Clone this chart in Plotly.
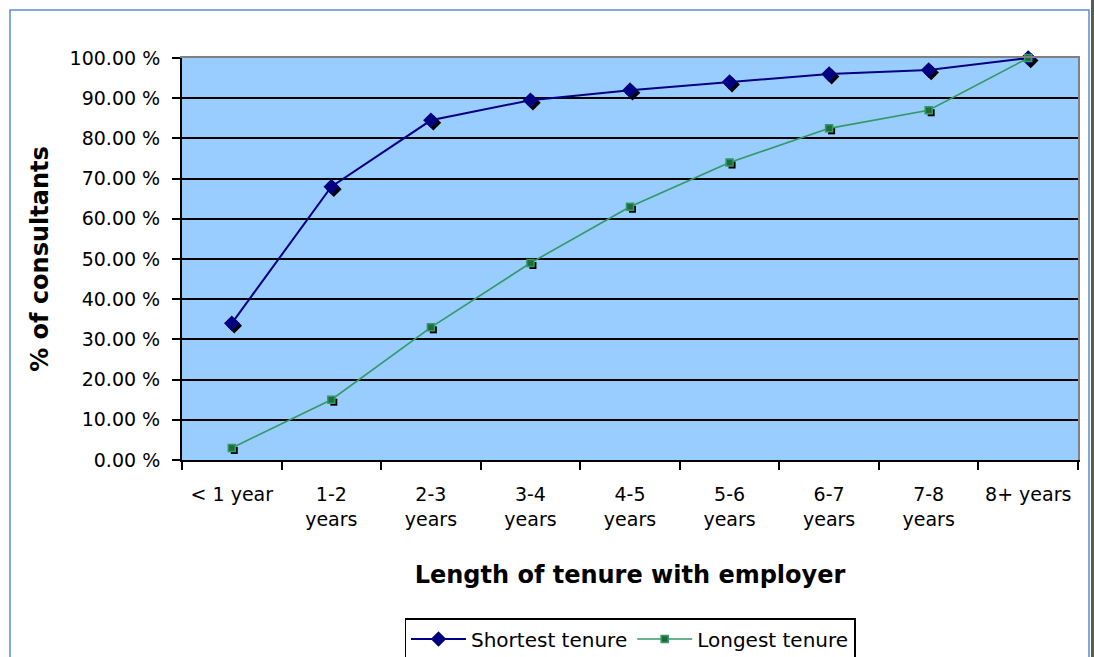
import plotly.graph_objects as go

# Tenure categories and cumulative share of consultants (%)
categories = ["&lt; 1 year", "1-2<br>years", "2-3<br>years", "3-4<br>years", "4-5<br>years",
              "5-6<br>years", "6-7<br>years", "7-8<br>years", "8+ years"]
shortest_tenure = [34, 68, 84.5, 89.5, 92, 94, 96, 97, 100]
longest_tenure = [3, 15, 33, 49, 63, 74, 82.5, 87, 100]
y_tick_values = [0, 10, 20, 30, 40, 50, 60, 70, 80, 90, 100]
y_tick_labels = ["0.00 %", "10.00 %", "20.00 %", "30.00 %", "40.00 %", "50.00 %",
                 "60.00 %", "70.00 %", "80.00 %", "90.00 %", "100.00 %"]

W, H = 1094, 657
ML, MR, MT, MB = 182, 16, 58, 197
PW, PH = W - ML - MR, H - MT - MB

FONT = "DejaVu Sans"
NAVY = "#000080"
GREEN = "#339966"

# drop shadow offset in pixels, converted to axis units
SHADOW_PX = 2.5
dx = SHADOW_PX / (PW / len(categories))
dy = SHADOW_PX / (PH / 100)

fig = go.Figure()

# shadows (base axes, shifted range)
fig.add_trace(go.Scatter(x=categories, y=shortest_tenure, mode="markers",
                         marker=dict(symbol="diamond", size=12, color="black"),
                         xaxis="x", yaxis="y", showlegend=False, cliponaxis=False,
                         hoverinfo="skip"))
fig.add_trace(go.Scatter(x=categories, y=longest_tenure, mode="markers",
                         marker=dict(symbol="square", size=7, color="black"),
                         xaxis="x", yaxis="y", showlegend=False, cliponaxis=False,
                         hoverinfo="skip"))

# main series
fig.add_trace(go.Scatter(x=categories, y=shortest_tenure, mode="lines+markers",
                         name="Shortest tenure",
                         line=dict(color=NAVY, width=2),
                         marker=dict(symbol="diamond", size=12, color=NAVY),
                         xaxis="x2", yaxis="y2", cliponaxis=False))
fig.add_trace(go.Scatter(x=categories, y=longest_tenure, mode="lines+markers",
                         name="Longest tenure",
                         line=dict(color=GREEN, width=1.6),
                         marker=dict(symbol="square", size=7, color="#1f6b3c",
                                     line=dict(color=GREEN, width=1.5)),
                         xaxis="x2", yaxis="y2", cliponaxis=False))

n = len(categories)
fig.update_layout(
    width=W, height=H, autosize=False,
    margin=dict(l=ML, r=MR, t=MT, b=MB, autoexpand=False),
    paper_bgcolor="white", plot_bgcolor="#99CCFF",
    font=dict(family=FONT, size=19, color="black"),
    xaxis=dict(type="category", range=[-0.5 - dx, n - 0.5 - dx],
               showgrid=False, showticklabels=False, ticks="",
               showline=True, linecolor="#808080", linewidth=2, mirror=True,
               zeroline=False, fixedrange=True),
    yaxis=dict(range=[0 + dy, 100 + dy], showgrid=False, showticklabels=False,
               ticks="", showline=True, linecolor="#808080", linewidth=2,
               mirror=True, zeroline=False, fixedrange=True),
    xaxis2=dict(type="category", overlaying="x", anchor="y2", side="bottom",
                range=[-0.5, n - 0.5], tickson="boundaries",
                ticks="outside", ticklen=8, tickwidth=2, tickcolor="black",
                ticklabelstandoff=16,
                showline=True, linecolor="black", linewidth=2,
                showgrid=False, zeroline=False,
                tickfont=dict(family=FONT, size=19, color="black"),
                title=dict(text="<b>Length of tenure with employer</b>",
                           font=dict(family=FONT, size=24, color="black"),
                           standoff=38)),
    yaxis2=dict(overlaying="y", anchor="x2", side="left", range=[0, 100],
                tickvals=y_tick_values, ticktext=y_tick_labels,
                ticks="outside", ticklen=8, tickwidth=2, tickcolor="black",
                ticklabelstandoff=8,
                showline=True, linecolor="black", linewidth=2,
                showgrid=True, gridcolor="black", gridwidth=2,
                zeroline=False,
                tickfont=dict(family=FONT, size=19, color="black"),
                title=dict(text="<b>% of consultants</b>",
                           font=dict(family=FONT, size=24, color="black"),
                           standoff=14)),
    legend=dict(orientation="h", x=0.5, xanchor="center",
                y=(460 - 618) / PH, yanchor="top",
                bordercolor="black", borderwidth=1.5, bgcolor="white",
                font=dict(family=FONT, size=20, color="black"),
                itemwidth=55, tracegroupgap=0),
    showlegend=True,
)

# outer frame around the chart
def px_x(p):
    return (p - ML) / PW

def px_y(p):
    return (H - MB - p) / PH

fig.add_shape(type="rect", xref="paper", yref="paper",
              x0=px_x(10), x1=px_x(1089), y0=px_y(700), y1=px_y(10),
              line=dict(color="#5B8BD6", width=1.5), fillcolor="rgba(0,0,0,0)",
              layer="above")
fig.add_shape(type="rect", xref="paper", yref="paper",
              x0=px_x(1091), x1=px_x(1100), y0=px_y(700), y1=px_y(-10),
              line=dict(width=0), fillcolor="#5a5a5a", layer="above")

fig.write_html("out.html")
